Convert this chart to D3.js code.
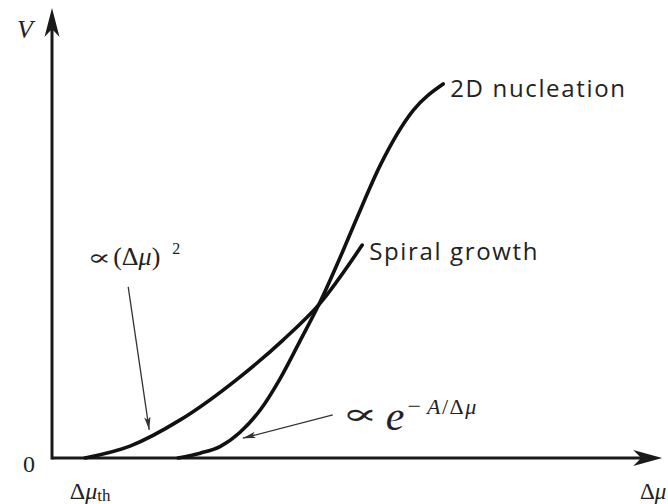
<!DOCTYPE html>
<html>
<head>
<meta charset="utf-8">
<script src="https://cdn.jsdelivr.net/npm/d3@7"></script>
<style>
  body { margin: 0; background: #fff; }
  .math { font-family: "Liberation Serif", "DejaVu Serif", serif; fill: #222; }
  .lbl { font-family: "Open Sans", "Noto Sans", sans-serif; fill: #222; letter-spacing: 1.65px; }
  .prop { font-family: "DejaVu Serif", serif; fill: #222; }
</style>
</head>
<body>
<script>
// curves, in (delta mu, V) units
var spiralX = [0.55, 1.30, 2.13, 3.13, 3.85, 4.47, 5.17];
var spiralV = [0, 0.27, 0.86, 1.84, 2.68, 3.52, 4.84];
var nucX = [2.10, 2.47, 2.80, 3.13, 3.47, 3.80, 4.13, 4.47, 4.80, 5.08, 5.47, 6.02, 6.52];
var nucV = [0, 0.11, 0.26, 0.58, 1.09, 1.80, 2.65, 3.55, 4.55, 5.45, 6.65, 7.90, 8.50];
var curveNames = ["Spiral growth", "2D nucleation"];
// leader arrows [fromX, fromV, toX, toV]
var leaderSq = [1.27, 3.89, 1.62, 0.64];
var leaderExp = [4.68, 0.98, 3.18, 0.45];
var muTh = 0.73;

var W = 668, H = 504;
var svg = d3.select('body').append('svg').attr('width', W).attr('height', H);

var x = d3.scaleLinear().domain([0, 10]).range([52, 652]);
var y = d3.scaleLinear().domain([0, 10]).range([458, 18]);

// axes: plain lines ending in filled arrowheads
svg.append('line').attr('x1', x(0)).attr('y1', y(0)).attr('x2', x(9.9)).attr('y2', y(0))
  .attr('stroke', '#1a1a1a').attr('stroke-width', 3);
svg.append('line').attr('x1', x(0)).attr('y1', y(0) + 1.5).attr('x2', x(0)).attr('y2', y(9.85))
  .attr('stroke', '#1a1a1a').attr('stroke-width', 3);

var xt = x(10.17), yt = y(0);
svg.append('path')
  .attr('d', 'M' + xt + ',' + yt + ' L' + (xt - 29) + ',' + (yt - 8) + ' L' + (xt - 21) + ',' + yt +
    ' L' + (xt - 29) + ',' + (yt + 8) + ' Z')
  .attr('fill', '#1a1a1a');
var vx = x(0), vy = y(10.23);
svg.append('path')
  .attr('d', 'M' + vx + ',' + vy + ' L' + (vx - 7.5) + ',' + (vy + 29) + ' L' + vx + ',' + (vy + 21) +
    ' L' + (vx + 7.5) + ',' + (vy + 29) + ' Z')
  .attr('fill', '#1a1a1a');

// growth curves
var line = d3.line().x(function(d) { return x(d[0]); }).y(function(d) { return y(d[1]); })
  .curve(d3.curveMonotoneX);
var spiral = d3.zip(spiralX, spiralV);
var nuc = d3.zip(nucX, nucV);
[spiral, nuc].forEach(function(pts, i) {
  svg.append('path').attr('d', line(pts)).attr('fill', 'none')
    .attr('stroke', '#111').attr('stroke-width', 3.6).attr('stroke-linecap', 'round');
  var end = pts[pts.length - 1];
  svg.append('text').attr('class', 'lbl')
    .attr('x', x(end[0]) + 7).attr('y', y(end[1]) + (i === 0 ? 15 : 13))
    .attr('font-size', 24).text(curveNames[i]);
});

// leader arrows
svg.append('defs').append('marker').attr('id', 'tip')
  .attr('viewBox', '0 0 14 8').attr('refX', 13).attr('refY', 4)
  .attr('markerWidth', 14).attr('markerHeight', 8).attr('markerUnits', 'userSpaceOnUse')
  .attr('orient', 'auto')
  .append('path').attr('d', 'M0,0.8 L13,4 L0,7.2 L3,4 Z').attr('fill', '#333');
[leaderSq, leaderExp].forEach(function(a) {
  svg.append('line').attr('x1', x(a[0])).attr('y1', y(a[1])).attr('x2', x(a[2])).attr('y2', y(a[3]))
    .attr('stroke', '#333').attr('stroke-width', 1.3).attr('marker-end', 'url(#tip)');
});

// math labels
svg.append('text').attr('class', 'math').attr('x', 17).attr('y', 38)
  .attr('font-size', 26).attr('font-style', 'italic').text('V');
svg.append('text').attr('class', 'math').attr('x', 23).attr('y', 472)
  .attr('font-size', 24).text('0');

var th = svg.append('text').attr('class', 'math').attr('x', x(muTh) - 26).attr('y', 499).attr('font-size', 24);
th.append('tspan').text('Δ');
th.append('tspan').attr('font-style', 'italic').text('μ');
th.append('tspan').attr('font-size', 17).attr('dy', 2).text('th');

var xl = svg.append('text').attr('class', 'math').attr('x', 640).attr('y', 499).attr('font-size', 23);
xl.append('tspan').text('Δ');
xl.append('tspan').attr('font-style', 'italic').text('μ');

// proportional-to signs, stretched to the wide math glyph
function prop(px, py, size, sx) {
  svg.append('text').attr('class', 'prop').attr('font-size', size)
    .attr('transform', 'translate(' + px + ',' + py + ') scale(' + sx + ',1)').text('∝');
}

var sqX = x(leaderSq[0]) - 41, sqY = y(leaderSq[1]) - 22;
prop(sqX, sqY, 22, 1.6);
var sq = svg.append('text').attr('class', 'math').attr('x', sqX + 26).attr('y', sqY)
  .attr('font-size', 26);
sq.append('tspan').text('(Δ');
sq.append('tspan').attr('font-style', 'italic').text('μ');
sq.append('tspan').text(')');
sq.append('tspan').attr('font-size', 16).attr('dy', -11).attr('dx', 12).text('2');

var exX = x(leaderExp[0]) + 15, exY = y(leaderExp[1]) + 15;
prop(exX - 6, exY - 6, 29, 1.85);
var ex = svg.append('text').attr('class', 'math').attr('x', exX + 38).attr('y', exY);
ex.append('tspan').attr('font-size', 42).attr('font-style', 'italic').text('e');
ex.append('tspan').attr('font-size', 24).attr('dy', -16).attr('dx', 3).text('− ');
ex.append('tspan').attr('font-size', 22).attr('font-style', 'italic').attr('letter-spacing', 1.5).text('A');
ex.append('tspan').attr('font-size', 22).attr('letter-spacing', 1.5).text('/Δ');
ex.append('tspan').attr('font-size', 22).attr('font-style', 'italic').text('μ');
</script>
</body>
</html>
